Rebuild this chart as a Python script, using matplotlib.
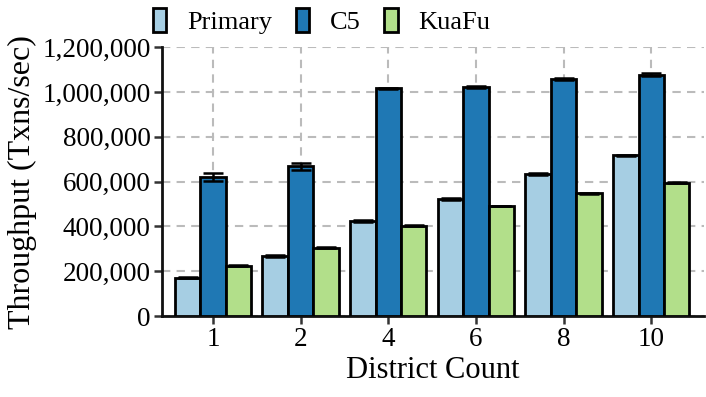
import numpy as np
import matplotlib.pyplot as plt
from matplotlib.ticker import FuncFormatter

plt.rcParams['font.family'] = ['Liberation Serif', 'DejaVu Serif']

districts = ['1', '2', '4', '6', '8', '10']
series = ['Primary', 'C5', 'KuaFu']
primary = [171000, 268000, 424000, 523000, 635000, 717000]
c5 = [621000, 669000, 1017000, 1023000, 1059000, 1078000]
kuafu = [224000, 305000, 403000, 491000, 547000, 596000]
primary_err = [3000, 3000, 3000, 4000, 4000, 3000]
c5_err = [18000, 16000, 3000, 5000, 5000, 8000]
kuafu_err = [2000, 2000, 2000, 2000, 2000, 2000]
colors = ['#a6cee3', '#1f78b4', '#b2df8a']

fig = plt.figure(figsize=(7.06, 3.97), dpi=100)
ax = fig.add_axes([0.229, 0.204, 0.768, 0.677])

x = np.arange(len(districts))
w = 0.29
for i, (vals, errs) in enumerate(zip([primary, c5, kuafu], [primary_err, c5_err, kuafu_err])):
    ax.bar(x + (i - 1) * w, vals, w, color=colors[i], edgecolor='black', linewidth=2,
           label=series[i], zorder=3,
           yerr=errs, error_kw=dict(ecolor='black', elinewidth=1.8, capsize=7, capthick=1.8, zorder=4))

ax.set_xlim(-0.585, 5.6)
ax.set_ylim(0, 1200000)
ax.set_yticks(np.arange(0, 1200001, 200000))
ax.yaxis.set_major_formatter(FuncFormatter(lambda v, p: f'{int(v):,}'))
ax.set_xticks(x)
ax.set_xticklabels(districts)
ax.grid(True, color='#bbbbbb', linestyle=(0, (4, 3)), linewidth=1.5, zorder=0)
ax.set_axisbelow(True)

for s in ['top', 'right']:
    ax.spines[s].set_visible(False)
for s in ['left', 'bottom']:
    ax.spines[s].set_linewidth(2)
    ax.spines[s].set_color('#111111')
ax.tick_params(axis='both', labelsize=19.5, width=1.8, length=6, color='#333333', pad=2)
ax.set_ylabel('Throughput (Txns/sec)', fontsize=23, labelpad=4)
ax.set_xlabel('District Count', fontsize=22, labelpad=3)

ax.legend(loc='lower center', bbox_to_anchor=(0.295, 1.04), ncol=3, frameon=False,
          fontsize=19, handlelength=0.5, handleheight=1.0, columnspacing=0.9, handletextpad=0.8,
          borderaxespad=0, borderpad=0.1)

fig.savefig('out.png', dpi=100)
